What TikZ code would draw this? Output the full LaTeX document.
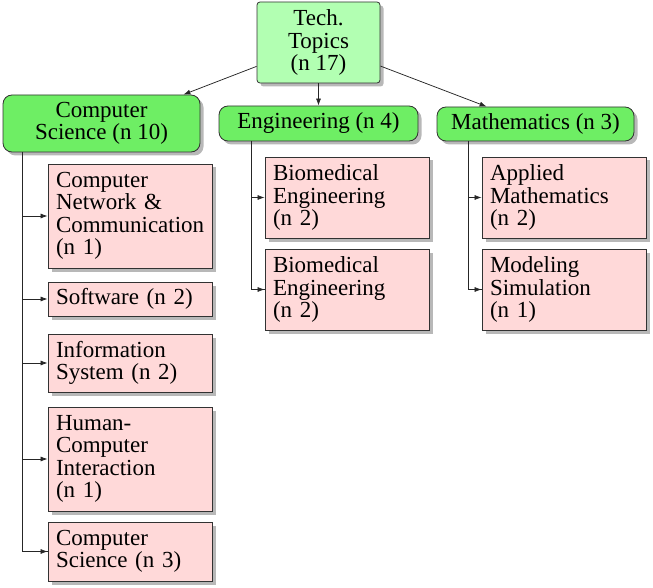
\documentclass[tikz,border=0pt]{standalone}
\usepackage{fontspec}
\setmainfont{Liberation Serif}
\usetikzlibrary{arrows.meta,shadows}
\definecolor{rootfill}{RGB}{178,255,178}
\definecolor{catfill}{RGB}{110,238,100}
\definecolor{leaffill}{RGB}{255,217,217}
\definecolor{edge}{RGB}{50,50,50}
\tikzset{
  base/.style={draw=edge, line width=0.8pt, inner sep=0pt,
    font=\fontsize{23}{22.5}\selectfont,
    drop shadow={shadow xshift=3.5pt, shadow yshift=-3.5pt, fill=black!28, opacity=1}},
  rootbox/.style={base, fill=rootfill, rounded corners=3pt, align=center,
    minimum width=123pt, minimum height=81pt},
  catbox/.style={base, fill=catfill, rounded corners=9pt, align=center,
    minimum width=197pt},
  leafbox/.style={base, fill=leaffill, text width=148pt, inner xsep=8pt,
    align=left, minimum width=164pt},
  arr/.style={-{Latex[length=7pt,width=5pt]}, line width=0.75pt, draw=black!85},
  trunk/.style={line width=0.75pt, draw=black!85}
}
\begin{document}
\begin{tikzpicture}[x=1pt,y=-1pt]
\useasboundingbox (0,0) rectangle (653,588);
% root
\node[rootbox] (root) at (318.5,42.5) {Tech.\\Topics\\(n 17)};
% categories
\node[catbox, minimum height=57pt] (cs) at (101.5,123.5) {Computer\\Science (n 10)};
\node[catbox, minimum width=199pt, minimum height=35pt] (eng) at (318.5,123.5) {Engineering (n 4)};
\node[catbox, minimum height=34pt] (math) at (535.5,124) {Mathematics (n 3)};
% computer science leaves
\node[leafbox, minimum height=104pt] (cnc) at (130,216) {Computer\\Network \&\\Communication\\(n 1)};
\node[leafbox, minimum height=34pt] (sw) at (130,299) {Software (n 2)};
\node[leafbox, minimum height=58pt] (is) at (130,363) {Information\\System (n 2)};
\node[leafbox, minimum height=104pt] (hci) at (130,459) {Human-\\Computer\\Interaction\\(n 1)};
\node[leafbox, minimum height=59pt] (cs3) at (130,551.5) {Computer\\Science (n 3)};
% engineering leaves
\node[leafbox, minimum height=81pt] (bme1) at (347,197.5) {Biomedical\\Engineering\\(n 2)};
\node[leafbox, minimum height=81pt] (bme2) at (347,289.5) {Biomedical\\Engineering\\(n 2)};
% mathematics leaves
\node[leafbox, minimum height=81pt] (am) at (564,197.5) {Applied\\Mathematics\\(n 2)};
\node[leafbox, minimum height=81pt] (ms) at (564,289.5) {Modeling\\Simulation\\(n 1)};
% root connectors
\draw[arr] (root) -- ([xshift=-17pt]cs.north east);
\draw[arr] (root) -- (eng);
\draw[arr] (root) -- ([xshift=50pt]math.north west);
% trunks
\coordinate (cst) at (22,152);
\coordinate (engt) at (251,141);
\coordinate (matht) at (468,141);
\draw[trunk] (cst) |- (cs3.west);
\foreach \c in {cnc,sw,is,hci,cs3} \draw[arr] (cst |- \c.west) -- (\c.west);
\draw[trunk] (engt) |- (bme2.west);
\foreach \c in {bme1,bme2} \draw[arr] (engt |- \c.west) -- (\c.west);
\draw[trunk] (matht) |- (ms.west);
\foreach \c in {am,ms} \draw[arr] (matht |- \c.west) -- (\c.west);
\end{tikzpicture}
\end{document}
